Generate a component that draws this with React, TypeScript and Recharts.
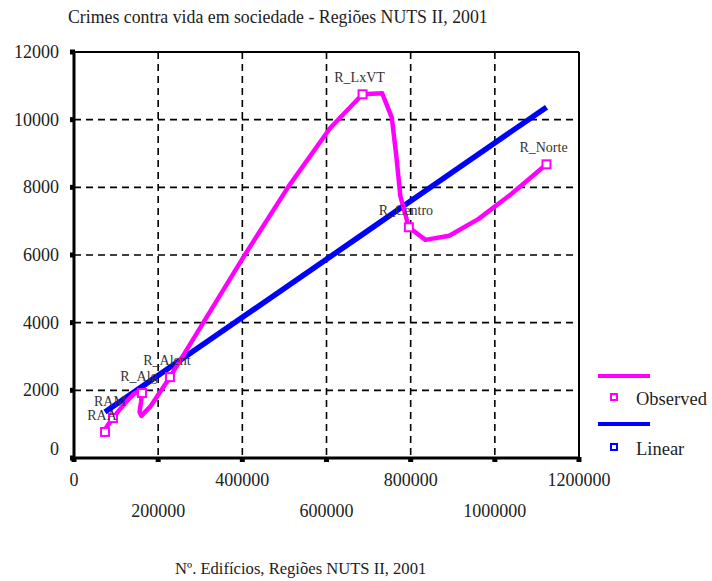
import React from "react";
import {
  ComposedChart,
  Line,
  XAxis,
  YAxis,
  CartesianGrid,
  ReferenceLine,
  LabelList,
} from "recharts";

const regionNames = ["RAA", "RAM", "R_Alg", "R_Alent", "R_LxVT", "R_Centro", "R_Norte"];
const buildings = [73600, 92600, 161500, 228000, 685700, 795700, 1122800];
const observed = [770, 1180, 1920, 2390, 10750, 6820, 8680];
const linear = [1360, 1520, 2110, 2680, 6610, 7560, 10370];

const xTicks = [0, 200000, 400000, 600000, 800000, 1000000, 1200000];
const yTicks = [0, 2000, 4000, 6000, 8000, 10000, 12000];

const data = regionNames.map((name, i) => ({
  name,
  x: buildings[i],
  obs: observed[i],
  lin: linear[i],
}));

const FONT = "'Liberation Serif', 'Times New Roman', serif";
const PINK = "#ff00ff";
const BLUE = "#0000ff";

// natural spline control points (same maths as d3's curveNatural)
function controlPoints(v: number[]) {
  const n = v.length - 1;
  const a = new Array(n);
  const b = new Array(n);
  const r = new Array(n);
  a[0] = 0;
  b[0] = 2;
  r[0] = v[0] + 2 * v[1];
  for (let i = 1; i < n - 1; ++i) {
    a[i] = 1;
    b[i] = 4;
    r[i] = 4 * v[i] + 2 * v[i + 1];
  }
  a[n - 1] = 2;
  b[n - 1] = 7;
  r[n - 1] = 8 * v[n - 1] + v[n];
  for (let i = 1; i < n; ++i) {
    const m = a[i] / b[i - 1];
    b[i] -= m;
    r[i] -= m * r[i - 1];
  }
  a[n - 1] = r[n - 1] / b[n - 1];
  for (let i = n - 2; i >= 0; --i) a[i] = (r[i] - a[i + 1]) / b[i];
  b[n - 1] = (v[n] + a[n - 1]) / 2;
  for (let i = 0; i < n - 1; ++i) b[i] = 2 * v[i + 1] - a[i + 1];
  return [a, b];
}

// the old chart samples the spline coarsely: 5 straight pieces per segment
const STEPS = 5;
const coarseNatural = (context: any) => {
  let xs: number[] = [];
  let ys: number[] = [];
  return {
    areaStart() {},
    areaEnd() {},
    lineStart() {
      xs = [];
      ys = [];
    },
    point(x: number, y: number) {
      xs.push(+x);
      ys.push(+y);
    },
    lineEnd() {
      const n = xs.length;
      if (!n) return;
      context.moveTo(xs[0], ys[0]);
      if (n === 2) {
        context.lineTo(xs[1], ys[1]);
        return;
      }
      const [ax, bx] = controlPoints(xs);
      const [ay, by] = controlPoints(ys);
      for (let i = 0; i < n - 1; i++) {
        for (let k = 1; k <= STEPS; k++) {
          const t = k / STEPS;
          const u = 1 - t;
          const px = u * u * u * xs[i] + 3 * u * u * t * ax[i] + 3 * u * t * t * bx[i] + t * t * t * xs[i + 1];
          const py = u * u * u * ys[i] + 3 * u * u * t * ay[i] + 3 * u * t * t * by[i] + t * t * t * ys[i + 1];
          context.lineTo(px, py);
        }
      }
    },
  };
};

const XTick = (props: any) => {
  const { x, y, payload, index } = props;
  const low = index % 2 === 1;
  return (
    <g>
      <rect x={x - 2.5} y={y - 1} width={5} height={5} fill="#000" />
      <text
        x={x}
        y={y + (low ? 59 : 28)}
        textAnchor="middle"
        fontFamily={FONT}
        fontSize={18}
        fill="#222"
      >
        {payload.value}
      </text>
    </g>
  );
};

const YTick = (props: any) => {
  const { x, y, payload } = props;
  return (
    <g>
      <rect x={x - 4} y={y - 2.5} width={5} height={5} fill="#000" />
      <text
        x={x - 15}
        y={y + (payload.value === 0 ? -3 : 6)}
        textAnchor="end"
        fontFamily={FONT}
        fontSize={18}
        fill="#222"
      >
        {payload.value}
      </text>
    </g>
  );
};

const PointLabel = (props: any) => {
  const { x, y, value } = props;
  return (
    <text
      x={x - 3}
      y={y - 12}
      textAnchor="middle"
      fontFamily={FONT}
      fontSize={14}
      fill="#333"
    >
      {value}
    </text>
  );
};

const Marker = (props: any) => {
  const { cx, cy, index } = props;
  return (
    <rect
      key={`m-${index}`}
      x={cx - 4}
      y={cy - 4}
      width={8}
      height={8}
      fill="#fff"
      stroke={PINK}
      strokeWidth={2}
    />
  );
};

const App = () => {
  return (
    <div style={{ position: "absolute", left: 0, top: 0, width: 712, height: 581 }}>
      <div
        style={{
          position: "absolute",
          left: 68,
          top: 6,
          fontFamily: FONT,
          fontSize: 17.8,
          lineHeight: "22px",
          color: "#222",
          whiteSpace: "nowrap",
        }}
      >
        Crimes contra vida em sociedade - Regiões NUTS II, 2001
      </div>
      <ComposedChart
        width={712}
        height={581}
        data={data}
        margin={{ top: 52, right: 133, bottom: 0, left: 0 }}
      >
        <CartesianGrid stroke="#000" strokeDasharray="7 5" strokeWidth={1.6} />
        <XAxis
          dataKey="x"
          type="number"
          domain={[0, 1200000]}
          ticks={xTicks}
          interval={0}
          height={123}
          tickSize={0}
          tickMargin={0}
          tickLine={false}
          axisLine={{ stroke: "#000", strokeWidth: 3 }}
          tick={<XTick />}
        />
        <YAxis
          type="number"
          domain={[0, 12000]}
          ticks={yTicks}
          interval={0}
          width={74}
          tickSize={0}
          tickMargin={0}
          tickLine={false}
          axisLine={{ stroke: "#000", strokeWidth: 3 }}
          tick={<YTick />}
        />
        <ReferenceLine y={12000} stroke="#000" strokeWidth={2} />
        <ReferenceLine x={1200000} stroke="#000" strokeWidth={2} />
        <Line
          dataKey="obs"
          stroke="none"
          dot={false}
          activeDot={false}
          isAnimationActive={false}
        >
          <LabelList dataKey="name" content={<PointLabel />} />
        </Line>
        <Line
          dataKey="lin"
          type="linear"
          stroke={BLUE}
          strokeWidth={5.5}
          dot={false}
          activeDot={false}
          isAnimationActive={false}
        />
        <Line
          dataKey="obs"
          type={coarseNatural as any}
          stroke={PINK}
          strokeWidth={4.5}
          strokeLinejoin="round"
          dot={<Marker />}
          activeDot={false}
          isAnimationActive={false}
        />
      </ComposedChart>
      <div
        style={{
          position: "absolute",
          left: 175,
          top: 558,
          fontFamily: FONT,
          fontSize: 16.6,
          lineHeight: "22px",
          color: "#222",
          whiteSpace: "nowrap",
        }}
      >
        Nº. Edifícios, Regiões NUTS II, 2001
      </div>
      <svg
        width={122}
        height={110}
        style={{ position: "absolute", left: 590, top: 360 }}
      >
        <rect x={8} y={14} width={52} height={4} fill={PINK} />
        <rect x={21} y={34} width={6} height={6} fill="#fff" stroke={PINK} strokeWidth={2} />
        <text x={46} y={45} fontFamily={FONT} fontSize={18.5} fill="#222">
          Observed
        </text>
        <rect x={8} y={62} width={52} height={4} fill={BLUE} />
        <rect x={21} y={84} width={6} height={6} fill="#fff" stroke={BLUE} strokeWidth={2} />
        <text x={46} y={95} fontFamily={FONT} fontSize={18.5} fill="#222">
          Linear
        </text>
      </svg>
    </div>
  );
};

export default App;
